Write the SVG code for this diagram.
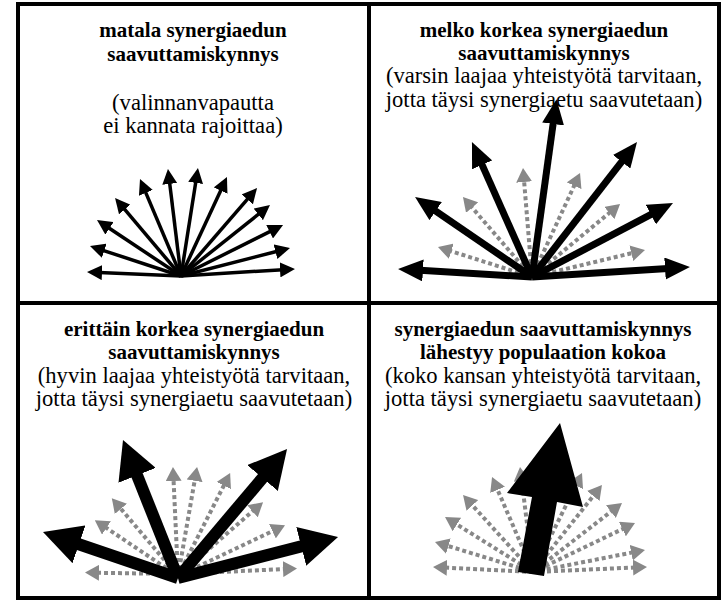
<svg xmlns="http://www.w3.org/2000/svg" width="721" height="600" viewBox="0 0 721 600">
<style>
text{font-family:'Liberation Serif','Times New Roman',Times,'DejaVu Serif',serif;text-anchor:middle;fill:#000}
.t{font-size:21px;font-weight:bold}
.s{font-size:22.6px}
.thin{stroke:#000;stroke-width:3.5;fill:none;marker-end:url(#hThin)}
.blk{stroke:#000;stroke-width:7;fill:none;marker-end:url(#hBlk)}
.big{stroke:#000;stroke-width:12;fill:none;marker-end:url(#hBig)}
.gry{stroke:#888;stroke-width:4;stroke-dasharray:4 3;fill:none;marker-end:url(#hGry)}
.frame{stroke:#000;stroke-width:4;fill:none}
</style>
<defs>
<marker id="hThin" markerUnits="userSpaceOnUse" markerWidth="15" markerHeight="15" refX="3" refY="7.5" orient="auto"><path d="M0,0 L15,7.5 L0,15 z" fill="#000"/></marker>
<marker id="hBlk" markerUnits="userSpaceOnUse" markerWidth="25" markerHeight="22" refX="3" refY="11" orient="auto"><path d="M0,0 L25,11 L0,22 z" fill="#000"/></marker>
<marker id="hBig" markerUnits="userSpaceOnUse" markerWidth="38" markerHeight="40" refX="4" refY="20" orient="auto"><path d="M0,0 L38,20 L0,40 z" fill="#000"/></marker>
<marker id="hGry" markerUnits="userSpaceOnUse" markerWidth="14" markerHeight="16" refX="2" refY="8" orient="auto"><path d="M0,0 L14,8 L0,16 z" fill="#888"/></marker>
</defs>
<rect width="721" height="600" fill="#fff"/>
<g id="frame">
<rect class="frame" x="18" y="4" width="701" height="594"/>
<line class="frame" x1="369" y1="4" x2="369" y2="598"/>
<line class="frame" x1="18" y1="303" x2="719" y2="303"/>
</g>
<g id="panel1">
<text class="t" font-family="Liberation Serif, serif" x="193" y="37">matala synergiaedun</text>
<text class="t" font-family="Liberation Serif, serif" x="193" y="61">saavuttamiskynnys</text>
<text class="s" font-family="Liberation Serif, serif" x="193" y="110">(valinnanvapautta</text>
<text class="s" font-family="Liberation Serif, serif" x="193" y="133">ei kannata rajoittaa)</text>
<g id="arrows1">
<path class="thin" d="M181,276 L99,272.5"/>
<path class="thin" d="M181,276 L101.4,249.8"/>
<path class="thin" d="M181,276 L107,226.7"/>
<path class="thin" d="M181,276 L122.8,207.2"/>
<path class="thin" d="M181,276 L144.7,190.1"/>
<path class="thin" d="M181,276 L169.4,180.9"/>
<path class="thin" d="M181,276 L196.1,179.9"/>
<path class="thin" d="M181,276 L221.9,187.9"/>
<path class="thin" d="M181,276 L249.2,197.1"/>
<path class="thin" d="M181,276 L260.6,212.5"/>
<path class="thin" d="M181,276 L272.3,230.4"/>
<path class="thin" d="M181,276 L278.4,251"/>
<path class="thin" d="M181,276 L283,269.7"/>
</g>
</g>
<g id="panel2">
<text class="t" font-family="Liberation Serif, serif" x="544" y="37">melko korkea synergiaedun</text>
<text class="t" font-family="Liberation Serif, serif" x="544" y="60">saavuttamiskynnys</text>
<text class="s" font-family="Liberation Serif, serif" x="544" y="83">(varsin laajaa yhteistyötä tarvitaan,</text>
<text class="s" font-family="Liberation Serif, serif" x="544" y="107">jotta täysi synergiaetu saavutetaan)</text>
<g id="arrows2">
<path class="gry" d="M532,277 L449.4,250.6"/>
<path class="gry" d="M532,277 L470.8,206.1"/>
<path class="gry" d="M532,277 L524,180"/>
<path class="gry" d="M532,277 L575,183.9"/>
<path class="gry" d="M532,277 L610.8,211.7"/>
<path class="gry" d="M532,277 L633.3,252.8"/>
<path class="blk" d="M532,277 L420,270.3"/>
<path class="blk" d="M532,277 L433.2,209.4"/>
<path class="blk" d="M532,277 L480.9,162.1"/>
<path class="blk" d="M532,277 L553.5,121"/>
<path class="blk" d="M532,277 L623.5,159.4"/>
<path class="blk" d="M532,277 L653.5,213.2"/>
<path class="blk" d="M532,277 L668,268.4"/>
</g>
</g>
<g id="panel3">
<text class="t" font-family="Liberation Serif, serif" x="194" y="336">erittäin korkea synergiaedun</text>
<text class="t" font-family="Liberation Serif, serif" x="194" y="359">saavuttamiskynnys</text>
<text class="s" font-family="Liberation Serif, serif" x="194" y="383">(hyvin laajaa yhteistyötä tarvitaan,</text>
<text class="s" font-family="Liberation Serif, serif" x="194" y="406">jotta täysi synergiaetu saavutetaan)</text>
<g id="arrows3">
<path class="gry" d="M178,574 L97,572.8"/>
<path class="gry" d="M178,576 L104.8,526.9"/>
<path class="gry" d="M178,576 L119.6,507.3"/>
<path class="gry" d="M178,576 L173.5,479"/>
<path class="gry" d="M178,576 L195,478.8"/>
<path class="gry" d="M178,576 L224.7,483.8"/>
<path class="gry" d="M178,576 L254,510"/>
<path class="gry" d="M178,576 L274.2,530.3"/>
<path class="gry" d="M178,574 L285,569"/>
<path class="big" d="M178,578 L75.2,543"/>
<path class="big" d="M178,578 L135.6,471.6"/>
<path class="big" d="M178,578 L265.1,475"/>
<path class="big" d="M178,578 L305.1,545.4"/>
</g>
</g>
<g id="panel4">
<text class="t" font-family="Liberation Serif, serif" x="543" y="336">synergiaedun saavuttamiskynnys</text>
<text class="t" font-family="Liberation Serif, serif" x="543" y="359">lähestyy populaation kokoa</text>
<text class="s" font-family="Liberation Serif, serif" x="543" y="383">(koko kansan yhteistyötä tarvitaan,</text>
<text class="s" font-family="Liberation Serif, serif" x="543" y="406">jotta täysi synergiaetu saavutetaan)</text>
<g id="arrows4">
<path class="gry" d="M533,572 L445,567.6"/>
<path class="gry" d="M533,572 L446.5,545.5"/>
<path class="gry" d="M533,572 L455.2,523.4"/>
<path class="gry" d="M533,572 L471.1,503.9"/>
<path class="gry" d="M533,572 L496.8,488"/>
<path class="gry" d="M533,572 L521.5,478.9"/>
<path class="gry" d="M533,572 L549,478"/>
<path class="gry" d="M533,572 L576.7,483.8"/>
<path class="gry" d="M533,572 L594.5,494.4"/>
<path class="gry" d="M533,572 L612.5,510.4"/>
<path class="gry" d="M533,572 L624.2,528.2"/>
<path class="gry" d="M533,572 L633.2,552.3"/>
<path class="gry" d="M533,572 L635,567.5"/>
<polygon points="518,572 532,497 507,493 560,423 583,507 557,502 544,576" fill="#000"/>
</g>
</g>
</svg>
